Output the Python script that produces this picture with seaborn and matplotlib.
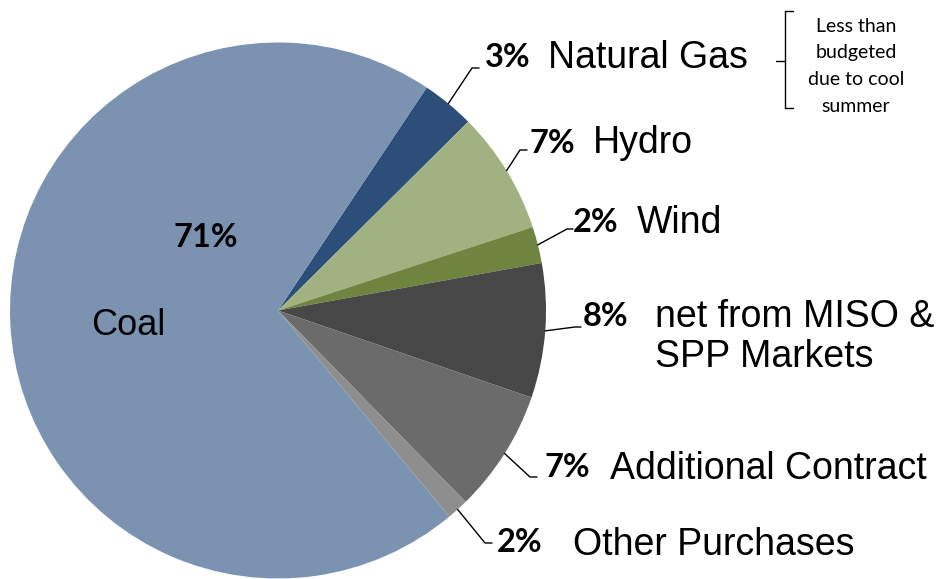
import matplotlib
matplotlib.use("Agg")
import matplotlib.pyplot as plt
import seaborn as sns
import numpy as np

# ---- data ----
categories = ["Natural Gas", "Hydro", "Wind", "net from MISO &\nSPP Markets",
              "Additional Contract", "Other Purchases", "Coal"]
shares = [3.2, 7.4, 2.2, 8.1, 7.4, 1.3, 70.4]
pct_labels = ["3%", "7%", "2%", "8%", "7%", "2%", "71%"]
note_lines = ["Less than", "budgeted", "due to cool", "summer"]

colors = ["#2C4E78", "#A1B181", "#6F843F", "#474747", "#6B6B6B", "#8E8E8E", "#7B93B1"]

sns.set_theme(style="white")
plt.rcParams['font.family'] = ['Liberation Sans', 'DejaVu Sans']
palette = sns.color_palette(colors)

W, H = 941, 579
fig = plt.figure(figsize=(W / 100, H / 100), dpi=100)
ax = fig.add_axes([0, 0, 1, 1])

cx, cy, R = 278, H - 310.5, 268
wedges, _ = ax.pie(shares, colors=palette, startangle=56.3, counterclock=False,
                   center=(cx, cy), radius=R, wedgeprops=dict(linewidth=0))
ax.set_xlim(0, W)
ax.set_ylim(0, H)
ax.set_aspect('equal')
ax.axis('off')

def Y(y):
    return H - y

# layout (pixel coords, y measured from top)
pct_pos = [(485, 67), (530, 153), (573, 232), (583, 326), (545, 477), (497, 552)]
name_pos = [(548, 68), (593, 153), (637, 233), (655, 327), (610, 479), (573, 555)]
elbows = [((472, 68), (479, 68)), ((520, 150), (527, 150)), ((567, 229), (573, 229)),
          ((575, 327), (581, 327)), ((530, 477), (537, 477)), ((485, 543), (492, 543))]

pct_font = dict(family=['Lato', 'DejaVu Sans'], fontweight='bold', fontsize=23.5)
name_font = dict(family=['Liberation Sans', 'DejaVu Sans'], fontsize=27)

for i in range(6):
    w = wedges[i]
    mid = np.deg2rad((w.theta1 + w.theta2) / 2)
    sx, sy = cx + R * np.cos(mid), cy + R * np.sin(mid)
    (ex, ey), (fx, fy) = elbows[i]
    ax.plot([sx, ex, fx], [sy, Y(ey), Y(fy)], color='black', lw=1.0,
            solid_joinstyle='miter')
    px, py = pct_pos[i]
    ax.text(px, Y(py), pct_labels[i], ha='left', va='baseline', color='black', **pct_font)
    nx, ny = name_pos[i]
    if "\n" in categories[i]:
        l1, l2 = categories[i].split("\n")
        ax.text(nx, Y(ny), l1, ha='left', va='baseline', color='black', **name_font)
        ax.text(nx, Y(ny + 40), l2, ha='left', va='baseline', color='black', **name_font)
    else:
        ax.text(nx, Y(ny), categories[i], ha='left', va='baseline', color='black', **name_font)

# Coal labels inside
ax.text(206, Y(247), pct_labels[6], ha='center', va='baseline', color='black', **pct_font)
ax.text(128, Y(335), categories[6], ha='center', va='baseline', color='black',
        family=['Liberation Sans', 'DejaVu Sans'], fontsize=26)

# brace note
ax.plot([793, 785, 785, 793], [Y(11), Y(11), Y(108), Y(108)], color='black', lw=1.0)
ax.plot([776, 785], [Y(61), Y(61)], color='black', lw=1.0)
note_y = [32, 58, 85, 112]
for t, yy in zip(note_lines, note_y):
    ax.text(856, Y(yy), t, ha='center', va='baseline', color='black',
            family=['Lato', 'DejaVu Sans'], fontsize=14)

fig.savefig("out.png", dpi=100)
